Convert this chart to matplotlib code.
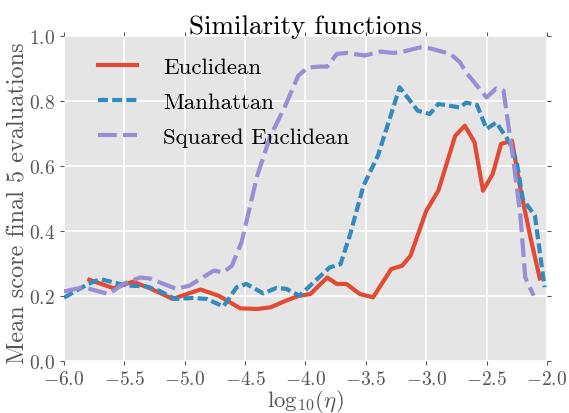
import matplotlib
matplotlib.use("Agg")
import matplotlib.pyplot as plt
import numpy as np

plt.style.use("ggplot")
plt.rcParams["font.family"] = ["cmr10", "DejaVu Serif"]
plt.rcParams["mathtext.fontset"] = "cm"
plt.rcParams["axes.formatter.use_mathtext"] = True

# values
euc_x = [-5.79, -5.59, -5.43, -5.29, -5.10, -4.87, -4.72, -4.54, -4.40, -4.29, -4.16, -4.05,
         -3.96, -3.82, -3.74, -3.66, -3.55, -3.44, -3.29, -3.20, -3.13, -3.00, -2.90, -2.76,
         -2.68, -2.60, -2.53, -2.45, -2.38, -2.29, -2.22, -2.14, -2.06]
euc_y = [0.250, 0.224, 0.244, 0.224, 0.191, 0.220, 0.201, 0.162, 0.160, 0.165, 0.186, 0.201,
         0.206, 0.257, 0.237, 0.237, 0.206, 0.196, 0.283, 0.293, 0.324, 0.462, 0.524, 0.693,
         0.724, 0.673, 0.524, 0.575, 0.668, 0.678, 0.529, 0.386, 0.254]

man_x = [-6.00, -5.80, -5.70, -5.59, -5.48, -5.32, -5.21, -5.08, -4.93, -4.82, -4.68, -4.57,
         -4.49, -4.35, -4.24, -4.16, -4.05, -3.80, -3.71, -3.63, -3.52, -3.40, -3.22, -3.07,
         -2.97, -2.90, -2.72, -2.67, -2.58, -2.50, -2.42, -2.31, -2.25, -2.20, -2.10, -2.02]
man_y = [0.195, 0.237, 0.252, 0.242, 0.232, 0.230, 0.216, 0.191, 0.194, 0.191, 0.168, 0.227,
         0.237, 0.208, 0.225, 0.222, 0.201, 0.288, 0.298, 0.390, 0.539, 0.632, 0.842, 0.770,
         0.760, 0.791, 0.780, 0.795, 0.788, 0.714, 0.734, 0.673, 0.611, 0.498, 0.447, 0.227]

sq_x = [-6.00, -5.84, -5.63, -5.51, -5.37, -5.29, -5.07, -4.96, -4.76, -4.68, -4.61, -4.53,
        -4.40, -4.29, -4.18, -4.06, -3.98, -3.88, -3.82, -3.74, -3.66, -3.51, -3.38, -3.27,
        -3.19, -3.05, -2.97, -2.80, -2.72, -2.67, -2.50, -2.42, -2.36, -2.28, -2.22, -2.18,
        -2.11]
sq_y = [0.214, 0.227, 0.206, 0.237, 0.257, 0.254, 0.222, 0.232, 0.278, 0.273, 0.293, 0.365,
        0.570, 0.693, 0.775, 0.878, 0.903, 0.906, 0.906, 0.945, 0.948, 0.940, 0.952, 0.948,
        0.952, 0.965, 0.962, 0.945, 0.919, 0.888, 0.811, 0.839, 0.832, 0.622, 0.447, 0.257,
        0.201]

fig = plt.figure(figsize=(5.69, 4.14), dpi=100)
ax = fig.add_axes([0.1125, 0.1256, 0.8488, 0.785])

ax.plot(euc_x, euc_y, color="#E24A33", lw=3, label="Euclidean")
ax.plot(man_x, man_y, color="#348ABD", lw=3, ls=(0, (2.4, 1.0)), label="Manhattan")
ax.plot(sq_x, sq_y, color="#988ED5", lw=3, ls=(0, (4.5, 1.5)), label="Squared Euclidean")

ax.set_xlim(-6, -2)
ax.set_ylim(0, 1)
ax.set_xticks(np.arange(-6, -1.99, 0.5))
ax.set_yticks(np.arange(0, 1.01, 0.2))
ax.xaxis.set_major_formatter(matplotlib.ticker.FormatStrFormatter(r"$%.1f$"))
ax.yaxis.set_major_formatter(matplotlib.ticker.FormatStrFormatter(r"$%.1f$"))
ax.tick_params(labelsize=14, colors="#555555", direction="out", length=3,
               top=True, right=True, labelcolor="#555555")
for s in ax.spines.values():
    s.set_visible(False)
ax.grid(True, color="white", lw=1.2)

ax.set_title("Similarity functions", fontsize=19.5, pad=2)
ax.set_xlabel(r"$\mathrm{log}_{10}(\eta)$", fontsize=16.5, color="#555555")
ax.xaxis.label.set_va("center")
ax.xaxis.set_label_coords(0.5, -0.121)
ax.set_ylabel("Mean score final 5 evaluations", fontsize=17.5, color="#555555")
ax.yaxis.label.set_va("center")
ax.yaxis.set_label_coords(-0.094, 0.49)

leg = ax.legend(loc="upper left", bbox_to_anchor=(0.052, 0.963), borderaxespad=0,
                fontsize=16.5, frameon=False, handlelength=1.7,
                handletextpad=1.13, labelspacing=0.65)
for t in leg.get_texts():
    t.set_color("black")

fig.savefig("out.png", dpi=100)
